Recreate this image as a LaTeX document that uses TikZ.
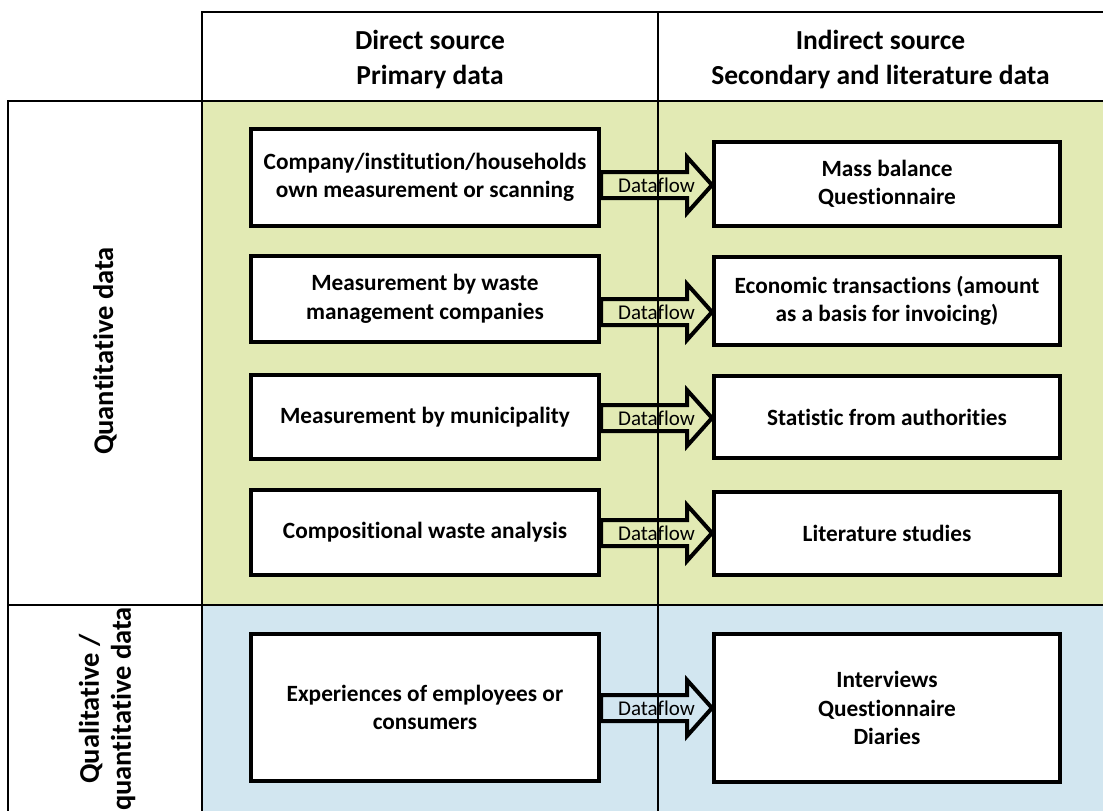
\documentclass[tikz,border=0pt]{standalone}
\usepackage{fontspec}
\setmainfont{Carlito}[Ligatures={NoCommon}]
\usetikzlibrary{calc}

\definecolor{quantgreen}{RGB}{226,234,180}
\definecolor{qualblue}{RGB}{210,230,240}

\tikzset{
  srcbox/.style={draw, line width=4pt, fill=white, align=center, inner sep=0pt,
    font=\bfseries\fontsize{23.3}{28.5}\selectfont},
  headtext/.style={align=center, font=\bfseries\fontsize{27.5}{35}\selectfont},
  sidetext/.style={rotate=90, align=center, font=\bfseries\fontsize{28.5}{32}\selectfont},
  flow/.style={draw, line width=4pt, line join=miter},
  flowtext/.style={font=\fontsize{21}{24}\selectfont, inner sep=0pt},
  rule/.style={line width=2.5pt},
}

\begin{document}
\begin{tikzpicture}[x=1pt, y=-1pt]
  \useasboundingbox (0,0) rectangle (1103,811);
  % shaded rows
  \fill[quantgreen] (202,101) rectangle (1103,605);
  \fill[qualblue] (202,605) rectangle (1103,811);

  % table rules
  \draw[rule] (202,811) -- (202,12) -- (1103,12);
  \draw[rule] (8,811) -- (8,101) -- (1103,101);
  \draw[rule] (8,605) -- (1103,605);
  \draw[line width=2pt] (658,12) -- (658,811);

  \node[headtext] (direct) at (430,60) {Direct source\\Primary data};
  \node[headtext] (indirect) at (880.5,60) {Indirect source\\Secondary and literature data};
  \node[sidetext] (quant) at (105,351) {Quantitative data};
  \node[sidetext] (qual) at (107,709) {Qualitative /\\quantitative data};

  % direct sources
  \foreach \i/\y/\h/\txt in {
    1/177.5/97/{Company/institution/households\\own measurement or scanning},
    2/299/86/{Measurement by waste\\management companies},
    3/417/84/{Measurement by municipality},
    4/532.5/85/{Compositional waste analysis},
    5/707.5/147/{Experiences of employees or\\consumers}} {
    \node[srcbox, minimum width=348, minimum height=\h] (src\i) at (425,\y) {\txt};
  }

  % indirect sources
  \foreach \i/\y/\h/\txt in {
    1/184/84/{Mass balance\\Questionnaire},
    2/301/88/{Economic transactions (amount\\as a basis for invoicing)},
    3/417/82/{Statistic from authorities},
    4/533.5/83/{Literature studies},
    5/708/148/{Interviews\\Questionnaire\\Diaries}} {
    \node[srcbox, minimum width=346, minimum height=\h] (ind\i) at (887,\y) {\txt};
  }

  % dataflow arrows
  \foreach \i/\ay in {1/185, 2/312, 3/418, 4/533, 5/708} {
    \coordinate (tail\i) at (src\i.east |- 0,\ay);
    \coordinate (tip\i) at (ind\i.west |- 0,\ay);
    \draw[flow] ($(tail\i)+(0,-13)$) -- ($(tip\i)+(-25,-13)$) -- ($(tip\i)+(-25,-28)$)
      -- (tip\i) -- ($(tip\i)+(-25,28)$) -- ($(tip\i)+(-25,13)$) -- ($(tail\i)+(0,13)$) -- cycle;
    \node[flowtext] (df\i) at ($(tail\i)!0.5!(tip\i)$) {Dataflow};
  }
\end{tikzpicture}
\end{document}
